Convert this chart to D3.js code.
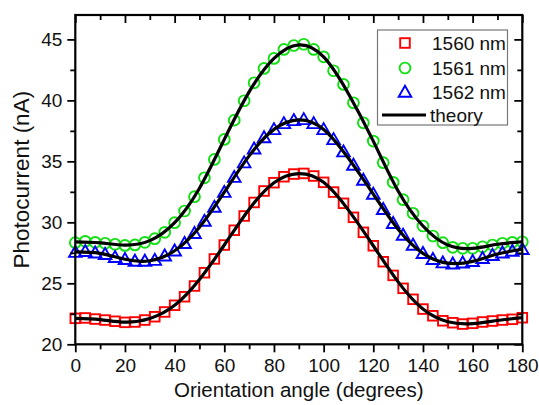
<!DOCTYPE html>
<html>
<head>
<meta charset="utf-8">
<script src="https://cdn.jsdelivr.net/npm/d3@7"></script>
<style>
  body { margin: 0; background: #fff; }
  svg { font-family: "Liberation Sans", Arial, sans-serif; }
</style>
</head>
<body>
<div id="chart"></div>
<script>
// measured angles, every 4 degrees
let angles = d3.range(0, 181, 4);

let red1560 = [22.13, 22.16, 22.07, 21.99, 21.89, 21.8, 21.83, 21.99, 22.26, 22.65,
  23.2, 23.9, 24.78, 25.87, 27.0, 28.14, 29.35, 30.52, 31.63, 32.57,
  33.25, 33.74, 33.96, 34.01, 33.8, 33.28, 32.48, 31.56, 30.41, 29.18,
  28.08, 26.77, 25.65, 24.59, 23.69, 22.89, 22.34, 21.93, 21.77, 21.66,
  21.72, 21.83, 21.91, 21.99, 22.05, 22.18];

let green1561 = [28.33, 28.44, 28.36, 28.28, 28.2, 28.11, 28.15, 28.36, 28.66, 29.18,
  29.97, 30.93, 32.1, 33.65, 35.16, 36.8, 38.38, 39.97, 41.44, 42.62,
  43.44, 44.18, 44.5, 44.6, 44.18, 43.57, 42.43, 41.31, 39.8, 38.16,
  36.66, 34.89, 33.28, 31.86, 30.74, 29.7, 28.88, 28.33, 27.95, 27.87,
  27.87, 28.0, 28.14, 28.28, 28.36, 28.41];

let blue1562 = [27.55, 27.62, 27.5, 27.38, 27.13, 26.97, 26.83, 26.83, 26.9, 27.26,
  27.67, 28.28, 29.1, 30.1, 31.25, 32.47, 33.7, 34.89, 36.03, 36.95,
  37.62, 38.11, 38.36, 38.44, 38.11, 37.62, 36.8, 35.79, 34.7, 33.47,
  32.32, 31.07, 29.92, 28.96, 28.14, 27.46, 26.97, 26.69, 26.6, 26.68,
  26.8, 27.05, 27.3, 27.5, 27.64, 27.79];

// theory curves, read every 10 degrees
let theoryAngles = d3.range(0, 181, 10);
let theoryRed = [22.12, 22.03, 21.82, 22.12, 23.2, 25.32, 28.14, 31.08, 33.25, 34.0,
  33.28, 31.0, 28.08, 25.12, 22.89, 21.85, 21.7, 21.95, 22.18];
let theoryGreen = [28.4, 28.32, 28.13, 28.5, 29.97, 32.8, 36.8, 40.7, 43.44, 44.55,
  43.57, 40.55, 36.66, 32.57, 29.7, 28.14, 27.87, 28.2, 28.41];
let theoryBlue = [27.57, 27.45, 26.97, 26.85, 27.67, 29.6, 32.47, 35.45, 37.62, 38.4,
  37.62, 35.25, 32.32, 29.44, 27.46, 26.65, 26.8, 27.4, 27.79];

let legendLabels = ["1560 nm", "1561 nm", "1562 nm", "theory"];
let xTicks = [0, 20, 40, 60, 80, 100, 120, 140, 160, 180];
let yTicks = [20, 25, 30, 35, 40, 45];

let width = 539, height = 405;
let plotLeft = 75.3, plotRight = 522.3, plotTop = 15, plotBottom = 344.3;

let svg = d3.select("#chart").append("svg")
  .attr("width", width)
  .attr("height", height);

let xScale = d3.scaleLinear().domain([0, 180]).range([plotLeft, plotRight]);
let yScale = d3.scaleLinear().domain([20, 47]).range([plotBottom, plotTop]);

let series = [
  { name: legendLabels[0], values: red1560, color: "#ff0000", shape: "square" },
  { name: legendLabels[1], values: green1561, color: "#11e011", shape: "circle" },
  { name: legendLabels[2], values: blue1562, color: "#0000ff", shape: "triangle" }
];
let theories = [theoryRed, theoryGreen, theoryBlue];

function drawMarker(g, shape, color) {
  if (shape === "square") {
    g.append("rect").attr("x", -4.8).attr("y", -4.8).attr("width", 9.6).attr("height", 9.6)
      .attr("fill", "none").attr("stroke", color).attr("stroke-width", 1.9);
  } else if (shape === "circle") {
    g.append("circle").attr("r", 5.4)
      .attr("fill", "none").attr("stroke", color).attr("stroke-width", 1.9);
  } else {
    g.append("path").attr("d", "M0,-6.3L6.3,4.7L-6.3,4.7Z")
      .attr("fill", "none").attr("stroke", color).attr("stroke-width", 1.9);
  }
}

// markers
series.forEach(function (s) {
  svg.append("g")
    .selectAll("g")
    .data(s.values)
    .enter()
    .append("g")
    .attr("transform", (d, i) => "translate(" + xScale(angles[i]) + "," + yScale(d) + ")")
    .each(function () { drawMarker(d3.select(this), s.shape, s.color); });
});

// theory lines
let line = d3.line()
  .x((d, i) => xScale(theoryAngles[i]))
  .y((d) => yScale(d))
  .curve(d3.curveNatural);

theories.forEach(function (t) {
  svg.append("path")
    .attr("d", line(t))
    .attr("fill", "none")
    .attr("stroke", "#000")
    .attr("stroke-width", 3.2);
});

// axes
let xAxis = d3.axisBottom(xScale).tickValues(xTicks).tickSize(8).tickPadding(6);
let xMinor = d3.axisBottom(xScale).tickValues(d3.range(10, 180, 20)).tickSize(5).tickFormat("");
let yAxis = d3.axisLeft(yScale).tickValues(yTicks).tickSize(8).tickPadding(5);
let yMinor = d3.axisLeft(yScale).tickValues(d3.range(22.5, 45, 5)).tickSize(5).tickFormat("");

svg.append("g").attr("transform", "translate(0," + plotBottom + ")").call(xAxis);
svg.append("g").attr("transform", "translate(0," + plotBottom + ")").call(xMinor);
svg.append("g").attr("transform", "translate(" + plotLeft + ",0)").call(yAxis);
svg.append("g").attr("transform", "translate(" + plotLeft + ",0)").call(yMinor);

// mirrored ticks on top and right, pointing inward
svg.append("g").attr("transform", "translate(0," + plotTop + ")")
  .call(d3.axisBottom(xScale).tickValues(xTicks).tickSize(8).tickFormat(""));
svg.append("g").attr("transform", "translate(0," + plotTop + ")")
  .call(d3.axisBottom(xScale).tickValues(d3.range(10, 180, 20)).tickSize(5).tickFormat(""));
svg.append("g").attr("transform", "translate(" + plotRight + ",0)")
  .call(d3.axisLeft(yScale).tickValues(yTicks).tickSize(8).tickFormat(""));
svg.append("g").attr("transform", "translate(" + plotRight + ",0)")
  .call(d3.axisLeft(yScale).tickValues(d3.range(22.5, 45, 5)).tickSize(5).tickFormat(""));

svg.selectAll(".domain").remove();
svg.selectAll(".tick line").attr("stroke", "#000").attr("stroke-width", 1.8);
svg.selectAll(".tick text").attr("font-size", 19).attr("fill", "#111")
  .attr("font-family", "Liberation Sans, Arial, sans-serif");

svg.append("rect")
  .attr("x", plotLeft).attr("y", plotTop)
  .attr("width", plotRight - plotLeft).attr("height", plotBottom - plotTop)
  .attr("fill", "none").attr("stroke", "#000").attr("stroke-width", 2.2);

// axis titles
svg.append("text")
  .attr("x", (plotLeft + plotRight) / 2)
  .attr("y", 397)
  .attr("text-anchor", "middle")
  .attr("font-size", 20.5)
  .attr("fill", "#111")
  .text("Orientation angle (degrees)");

svg.append("text")
  .attr("transform", "translate(29," + (plotTop + plotBottom) / 2 + ") rotate(-90)")
  .attr("text-anchor", "middle")
  .attr("font-size", 22.5)
  .attr("fill", "#111")
  .text("Photocurrent (nA)");

// legend
let legend = svg.append("g");
legend.append("rect")
  .attr("x", 377.5).attr("y", 30)
  .attr("width", 130).attr("height", 95)
  .attr("fill", "#fff").attr("stroke", "#777").attr("stroke-width", 1.2);

let rowY = [43, 68, 92, 115];
series.forEach(function (s, i) {
  let g = legend.append("g").attr("transform", "translate(405," + rowY[i] + ")");
  drawMarker(g, s.shape, s.color);
});
legend.append("line")
  .attr("x1", 382).attr("x2", 426)
  .attr("y1", rowY[3]).attr("y2", rowY[3])
  .attr("stroke", "#000").attr("stroke-width", 3.2);

legend.selectAll("text")
  .data(legendLabels)
  .enter()
  .append("text")
  .attr("x", (d, i) => (i === 3 ? 430 : 432))
  .attr("y", (d, i) => rowY[i] + 7)
  .attr("font-size", 19)
  .attr("fill", "#111")
  .text((d) => d);
</script>
</body>
</html>
